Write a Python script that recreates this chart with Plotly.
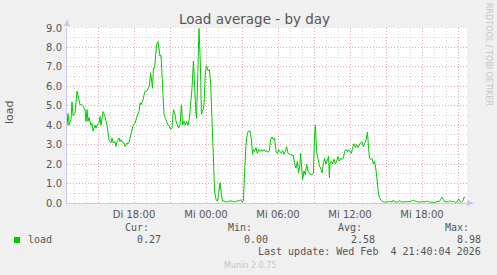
import plotly.graph_objects as go

# minutes relative to Wed (Mi) 00:00
minutes = [
    -695, -690, -685, -675, -670, -665, -655, -650, -645, -635, -630, -620, -615, -605, -600,
    -595, -590, -585, -575, -570, -565, -555, -550, -545, -535, -530, -525, -515, -510, -505,
    -495, -490, -485, -475, -470, -465, -455, -450, -445, -435, -430, -425, -415, -410, -405,
    -395, -390, -385, -375, -370, -365, -355, -350, -345, -335, -330, -325, -315, -310, -305,
    -297, -290, -283, -277, -270, -267, -263, -257, -253, -247, -240, -235, -230, -225, -220,
    -213, -210, -203, -197, -190, -183, -177, -170, -163, -157, -150, -143, -137, -130, -123,
    -117, -110, -103, -97, -90, -83, -77, -70, -63, -57, -50, -47, -40, -35, -28,
    -23, -17, -10, -3, 3, 10, 17, 23, 30, 37, 43, 50, 57, 63, 70,
    77, 83, 90, 97, 103, 117, 130, 143, 157, 167, 173, 180, 187, 193, 200,
    207, 213, 220, 227, 233, 237, 243, 250, 257, 263, 270, 277, 283, 290, 297,
    303, 310, 317, 323, 330, 337, 343, 350, 357, 363, 370, 377, 383, 390, 397,
    403, 410, 417, 423, 430, 437, 443, 450, 457, 463, 470, 473, 477, 483, 490,
    497, 503, 510, 517, 523, 530, 537, 543, 547, 553, 560, 567, 573, 580, 587,
    593, 600, 607, 613, 617, 620, 627, 633, 640, 647, 653, 660, 667, 673, 680,
    687, 693, 700, 707, 713, 720, 727, 733, 740, 747, 753, 760, 767, 773, 780,
    787, 793, 800, 807, 813, 817, 823, 830, 837, 843, 850, 857, 863, 870, 877,
    887, 893, 897, 903, 917, 930, 937, 943, 957, 967, 977, 990, 1003, 1013, 1023,
    1037, 1047, 1057, 1070, 1083, 1097, 1107, 1117, 1130, 1143, 1157, 1167, 1173, 1180, 1187,
    1193, 1203, 1213, 1220, 1227, 1237, 1247, 1257, 1263, 1270, 1277, 1283, 1290, 1297,
]
load = [
    4.0, 4.6, 4.0, 4.3, 5.2, 4.5, 4.6, 5.1, 5.75, 5.3, 5.05, 5.05, 5.0, 4.8, 4.2,
    4.8, 4.2, 4.4, 4.0, 4.1, 3.7, 4.0, 3.85, 4.0, 4.1, 4.45, 4.0, 4.7, 4.55, 4.45,
    4.0, 3.5, 3.25, 3.1, 3.35, 3.1, 3.15, 2.9, 3.15, 3.35, 3.15, 3.25, 3.1, 3.1, 2.9,
    3.1, 3.05, 3.1, 3.5, 3.8, 4.0, 4.1, 4.35, 4.45, 4.7, 5.15, 5.05, 5.3, 5.55, 5.75,
    5.75, 5.85, 6.0, 6.7, 6.0, 5.9, 6.95, 6.95, 7.45, 8.15, 8.3, 7.9, 7.55, 7.6, 6.6,
    5.75, 4.55, 4.35, 4.2, 4.0, 3.95, 3.8, 3.85, 4.8, 4.7, 4.2, 4.0, 3.85, 4.0, 5.05,
    4.0, 4.2, 4.0, 4.2, 4.0, 4.35, 5.05, 5.9, 7.3, 5.75, 4.55, 4.35, 6.6, 8.98, 7.1,
    4.55, 4.7, 5.05, 6.8, 7.05, 6.8, 6.85, 6.2, 4.2, 2.3, 0.6, 0.17, 0.1, 0.45, 1.05,
    0.45, 0.1, 0.1, 0.05, 0.05, 0.1, 0.1, 0.05, 0.12, 0.1, 0.17, 0.05, 0.1, 1.6, 3.0,
    3.6, 3.7, 3.7, 3.25, 2.5, 2.75, 2.65, 2.85, 2.55, 2.75, 2.65, 2.75, 2.65, 2.75, 2.65,
    2.7, 2.6, 2.7, 3.25, 3.4, 3.25, 3.35, 2.65, 2.55, 2.75, 2.65, 2.55, 2.7, 2.5, 2.65,
    2.9, 2.55, 2.5, 2.5, 2.45, 2.45, 2.0, 1.8, 2.15, 1.55, 2.0, 2.55, 1.8, 1.2, 1.65,
    1.45, 2.0, 1.65, 1.55, 1.45, 1.45, 1.55, 3.5, 4.0, 2.65, 2.15, 1.9, 1.8, 1.55, 2.0,
    2.3, 2.0, 2.3, 2.4, 1.3, 2.05, 2.15, 2.0, 2.25, 2.0, 2.15, 2.4, 2.15, 2.3, 2.25,
    2.3, 2.65, 2.75, 2.65, 2.75, 2.65, 2.55, 2.85, 3.05, 2.85, 3.0, 2.85, 3.0, 3.1, 3.15,
    2.9, 3.05, 3.25, 3.65, 3.0, 2.3, 2.25, 2.3, 2.0, 2.15, 1.7, 0.95, 0.45, 0.22, 0.12,
    0.05, 0.03, 0.08, 0.05, 0.08, 0.05, 0.15, 0.05, 0.05, 0.12, 0.05, 0.05, 0.08, 0.05, 0.08,
    0.15, 0.1, 0.05, 0.05, 0.08, 0.05, 0.1, 0.05, 0.05, 0.03, 0.08, 0.08, 0.17, 0.3, 0.17,
    0.05, 0.08, 0.05, 0.13, 0.05, 0.08, 0.03, 0.08, 0.22, 0.08, 0.03, 0.08, 0.3, 0.27,
]

x_grid_minutes = [-540, -360, -180, 0, 180, 360, 540, 720, 900, 1080, 1260]
x_grid_labels = ["", "Di 18:00", "", "Mi 00:00", "", "Mi 06:00", "", "Mi 12:00", "", "Mi 18:00", ""]
y_ticks = [0, 1, 2, 3, 4, 5, 6, 7, 8, 9]
y_labels = ["0.0", "1.0", "2.0", "3.0", "4.0", "5.0", "6.0", "7.0", "8.0", "9.0"]

series_name = "load"
stat_names = ["Cur:", "Min:", "Avg:", "Max:"]
stat_values = ["0.27", "0.00", "2.58", "8.98"]
last_update = "Last update: Wed Feb  4 21:40:04 2026"
title = "Load average - by day"
y_title = "load"
credit = "Munin 2.0.75"
side_text = "RRDTOOL / TOBI OETIKER"

W, H = 497, 275
L, R, T, B = 67, 30, 28, 72
PW, PH = W - L - R, H - T - B


def px(x):
    return (x - L) / PW


def py(y):
    return (T + PH - y) / PH


GREEN = "#00cc00"
MAJOR = "rgba(228,150,150,0.7)"
MINOR = "rgba(185,185,185,0.65)"
AXIS = "#c8c8f0"
TXT = "#555555"

fig = go.Figure()
fig.add_trace(go.Scatter(x=minutes, y=load, mode="lines",
                         line=dict(color=GREEN, width=1.0), showlegend=False,
                         hoverinfo="skip"))

fig.update_layout(
    width=W, height=H,
    margin=dict(l=L, r=R, t=T, b=B),
    paper_bgcolor="#f0f0f0", plot_bgcolor="#ffffff",
    font=dict(family="DejaVu Sans", size=10, color=TXT),
    showlegend=False,
)
fig.update_xaxes(
    range=[-695, 1305], tickmode="array", tickvals=x_grid_minutes, ticktext=x_grid_labels,
    showgrid=True, gridcolor=MAJOR, griddash="1px,2px", gridwidth=1,
    minor=dict(dtick=60, tick0=0, showgrid=True, gridcolor=MINOR, griddash="1px,2px", gridwidth=1),
    showline=True, linecolor=AXIS, linewidth=1, zeroline=False, ticks="",
    tickfont=dict(size=10, color=TXT), ticklabelstandoff=2, fixedrange=True,
)
fig.update_yaxes(
    range=[0, 9], tickmode="array", tickvals=y_ticks, ticktext=y_labels,
    showgrid=True, gridcolor=MAJOR, griddash="1px,2px", gridwidth=1,
    minor=dict(dtick=0.5, tick0=0, showgrid=True, gridcolor=MINOR, griddash="1px,2px", gridwidth=1),
    showline=True, linecolor=AXIS, linewidth=1, zeroline=False, ticks="",
    tickfont=dict(size=10, color=TXT), ticklabelstandoff=2, fixedrange=True,
)

ann = []
ann.append(dict(text=title, x=px(254), y=py(19), xref="paper", yref="paper",
                showarrow=False, font=dict(size=13.5, color=TXT), xanchor="center", yanchor="middle"))
ann.append(dict(text=y_title, x=px(9), y=py(112), xref="paper", yref="paper", textangle=-90,
                showarrow=False, font=dict(size=11, color=TXT), xanchor="center", yanchor="middle"))
ann.append(dict(text=side_text, x=px(489), y=py(54), xref="paper", yref="paper", textangle=90,
                showarrow=False, font=dict(size=8, color="#c4c4c4"), xanchor="center", yanchor="middle"))

MONO = "DejaVu Sans Mono"
ann.append(dict(text=series_name, x=px(26), y=py(239), xref="paper", yref="paper",
                showarrow=False, font=dict(family=MONO, size=10, color=TXT), xanchor="left", yanchor="middle"))
name_right = [151, 254, 364, 471]
val_right = [163, 270, 377, 483]
for n, v, nr, vr in zip(stat_names, stat_values, name_right, val_right):
    ann.append(dict(text=n, x=px(nr), y=py(227), xref="paper", yref="paper",
                    showarrow=False, font=dict(family=MONO, size=10, color=TXT), xanchor="right", yanchor="middle"))
    ann.append(dict(text=v, x=px(vr), y=py(239), xref="paper", yref="paper",
                    showarrow=False, font=dict(family=MONO, size=10, color=TXT), xanchor="right", yanchor="middle"))
ann.append(dict(text=last_update, x=px(483), y=py(251), xref="paper", yref="paper",
                showarrow=False, font=dict(family=MONO, size=10, color=TXT), xanchor="right", yanchor="middle"))
ann.append(dict(text=credit, x=px(250), y=py(265), xref="paper", yref="paper",
                showarrow=False, font=dict(size=8, color="#c4c4c4"), xanchor="center", yanchor="middle"))
fig.update_layout(annotations=ann)

shapes = [
    # legend colour box
    dict(type="rect", xref="paper", yref="paper", x0=px(14), x1=px(20), y0=py(243), y1=py(237),
         fillcolor=GREEN, line=dict(width=0)),
    # axis arrows
    dict(type="path", xref="paper", yref="paper",
         path=f"M {px(64)} {py(26)} L {px(70)} {py(26)} L {px(67)} {py(19)} Z",
         fillcolor=AXIS, line=dict(width=0)),
    dict(type="path", xref="paper", yref="paper",
         path=f"M {px(467)} {py(200)} L {px(467)} {py(206)} L {px(474)} {py(203)} Z",
         fillcolor=AXIS, line=dict(width=0)),
]
fig.update_layout(shapes=shapes)

fig.write_html("out.html")
